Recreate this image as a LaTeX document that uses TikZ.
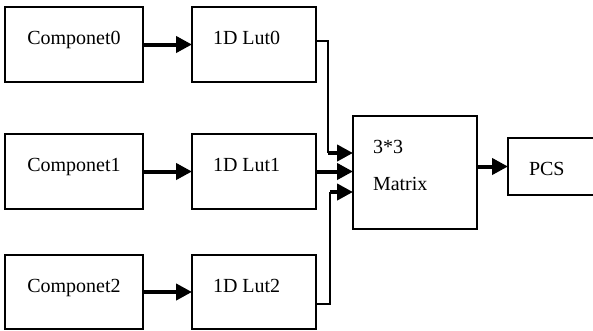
\documentclass[tikz,border=0pt]{standalone}
\usepackage{fontspec}
\setmainfont{Liberation Serif}
\usetikzlibrary{arrows.meta,calc}
\begin{document}
\begin{tikzpicture}[x=1pt,y=-1pt,
  box/.style={draw,line width=2pt,inner sep=0pt,outer sep=0pt},
  lbl/.style={inner sep=0pt,outer sep=0pt,font=\fontsize{20}{24}\selectfont},
  feed/.style={line width=4pt,-{Triangle[length=16pt,width=16pt]}},
  wire/.style={line width=1.5pt}]
\useasboundingbox (0,0) rectangle (593,330);

% input components
\node[box,minimum width=138pt,minimum height=75pt] (c0) at (74,44.5) {};
\node[box,minimum width=138pt,minimum height=75pt] (c1) at (74,171.5) {};
\node[box,minimum width=138pt,minimum height=74pt] (c2) at (74,292) {};

% 1D lookup tables
\node[box,minimum width=124pt,minimum height=75pt] (l0) at (254,44.5) {};
\node[box,minimum width=124pt,minimum height=75pt] (l1) at (254,171.5) {};
\node[box,minimum width=124pt,minimum height=74pt] (l2) at (254,292) {};

% matrix and output
\node[box,minimum width=124pt,minimum height=113pt] (m) at (415,172.5) {};
\node[box,minimum width=100pt,minimum height=57pt] (p) at (558,166.5) {};

% labels
\node[lbl,anchor=base] (c0t) at (c0.center) {Componet0};
\node[lbl,anchor=base] (c1t) at (c1.center) {Componet1};
\node[lbl,anchor=base] (c2t) at (c2.center) {Componet2};
\node[lbl,anchor=base west] (l0t) at ([xshift=21pt]l0.west) {1D Lut0};
\node[lbl,anchor=base west] (l1t) at ([xshift=21pt]l1.west) {1D Lut1};
\node[lbl,anchor=base west] (l2t) at ([xshift=21pt]l2.west) {1D Lut2};
\node[lbl,anchor=base west] (mt1) at (373,153) {3*3};
\node[lbl,anchor=base west] (mt2) at (373,190) {Matrix};
\node[lbl,anchor=base west] (pt) at ([xshift=21pt,yshift=-8.5pt]p.west) {PCS};

% component -> table
\draw[feed] (c0) -- (l0);
\draw[feed] (c1) -- (l1);
\draw[feed] (c2) -- (l2);

% tables -> matrix
\coordinate (j0) at (328,41);
\coordinate (k0) at (328,153);
\coordinate (j2) at (330,304);
\coordinate (k2) at (330,192);
\draw[wire] (l0.east |- j0) -- (j0) -- (k0);
\draw[feed] (k0) -- (k0 -| m.west);
\draw[feed] (l1.east) -- (l1.east -| m.west);
\draw[wire] (l2.east |- j2) -- (j2) -- (k2);
\draw[feed] (k2) -- (k2 -| m.west);

% matrix -> PCS
\draw[feed] (m.east |- p.west) -- (p.west);
\end{tikzpicture}
\end{document}
